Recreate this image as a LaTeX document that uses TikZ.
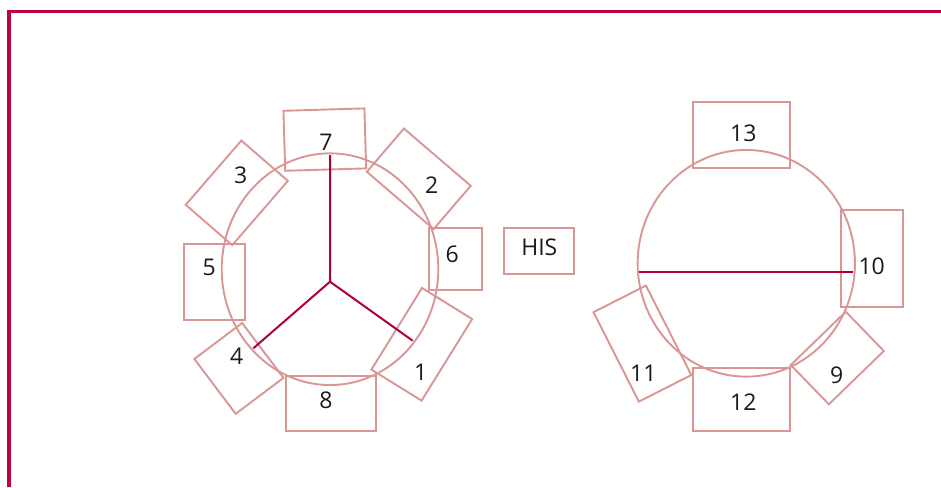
\documentclass[tikz,border=0pt]{standalone}
\usepackage{fontspec}
\setmainfont{Open Sans}
\usetikzlibrary{shapes.geometric}
\definecolor{rosy}{HTML}{D99694}
\definecolor{crimson}{HTML}{B0003C}
\definecolor{framered}{HTML}{C0003F}
\definecolor{ink}{HTML}{1A1A1A}
\begin{document}
\begin{tikzpicture}[x=1pt,y=-1pt,
  seat/.style={draw=rosy, line width=1.9pt, rectangle, inner sep=0pt, outer sep=0pt},
  tablering/.style={draw=rosy, line width=1.9pt, ellipse, inner sep=0pt, outer sep=0pt},
  divider/.style={draw=crimson, line width=2pt},
  lbl/.style={text=ink, inner sep=0pt, font=\fontsize{23}{27}\selectfont}]
\useasboundingbox (0,0) rectangle (941,487);

% open frame: left and top edges
\draw[framered, line width=3.3pt, line join=miter] (9,487) -- (9,11.7) -- (941,11.7);

% left table
\node[tablering, minimum width=216.6pt, minimum height=231.7pt] (ringA) at (330,269.2) {};
\node[seat, rotate=1.7,   minimum width=81pt,   minimum height=60pt]   (s7) at (324.8,139.6) {};
\node[seat, rotate=-40.6, minimum width=88pt,   minimum height=57pt]   (s2) at (418.8,178.8) {};
\node[seat,               minimum width=53pt,   minimum height=62.3pt] (s6) at (455.8,258.85) {};
\node[seat, rotate=58.2,  minimum width=96pt,   minimum height=59pt]   (s1) at (421.8,344.3) {};
\node[seat,               minimum width=90pt,   minimum height=55pt]   (s8) at (330.7,403.2) {};
\node[seat, rotate=37,    minimum width=59.8pt, minimum height=68.7pt] (s4) at (238.9,368.4) {};
\node[seat,               minimum width=60.7pt, minimum height=76pt]   (s5) at (214.65,282) {};
\node[seat, rotate=49.1,  minimum width=85pt,   minimum height=61.6pt] (s3) at (236.8,192.85) {};

\coordinate (hub) at (330,281.7);
\coordinate (spokeT) at (330,155);
\coordinate (spokeL) at (253.3,348.3);
\coordinate (spokeR) at (412.7,340.7);
\draw[divider] (spokeT) -- (hub) -- (spokeL);
\draw[divider] (hub) -- (spokeR);

\node[lbl] (l7) at (326,142.7) {7};
\node[lbl] (l2) at (431.7,185) {2};
\node[lbl] (l6) at (452.3,254.3) {6};
\node[lbl] (l1) at (420.7,372.7) {1};
\node[lbl] (l8) at (326,400.7) {8};
\node[lbl] (l4) at (236.7,356.7) {4};
\node[lbl] (l5) at (209.3,267.7) {5};
\node[lbl] (l3) at (240.7,175) {3};

% middle box
\node[seat, minimum width=70pt, minimum height=45.7pt] (his) at (539,251.15) {};
\node[lbl] (lhis) at (539.3,247) {HIS};

% right table
\node[tablering, minimum width=217.3pt, minimum height=226.7pt] (ringB) at (746.3,263.3) {};
\node[seat,               minimum width=96.7pt, minimum height=66.6pt]  (s13) at (741.65,135) {};
\node[seat,               minimum width=62pt,   minimum height=96.7pt]  (s10) at (871.7,258.35) {};
\node[seat, rotate=44.1,  minimum width=76.6pt, minimum height=54.7pt]  (s9) at (837.3,358) {};
\node[seat,               minimum width=96.7pt, minimum height=62.4pt]  (s12) at (741.65,399.5) {};
\node[seat, rotate=26.9,  minimum width=58.8pt, minimum height=100.3pt] (s11) at (642.4,343.6) {};

\coordinate (barL) at (639.3,271.7);
\coordinate (barR) at (853.3,271.7);
\draw[divider] (barL) -- (barR);

\node[lbl] (l13) at (743.3,133.3) {13};
\node[lbl] (l10) at (871.7,266.7) {10};
\node[lbl] (l9)  at (836.7,375) {9};
\node[lbl] (l12) at (743.3,401.7) {12};
\node[lbl] (l11) at (643.3,373.3) {11};
\end{tikzpicture}
\end{document}
